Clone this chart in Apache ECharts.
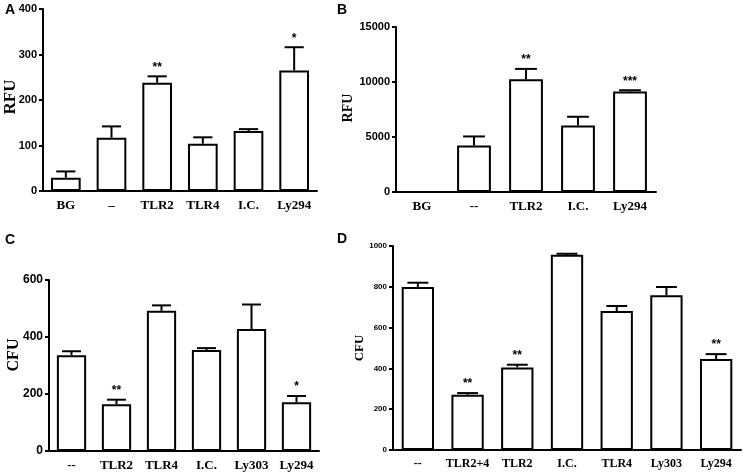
<!DOCTYPE html>
<html>
<head>
<meta charset="utf-8">
<script src="https://cdn.jsdelivr.net/npm/echarts@6/dist/echarts.min.js"></script>
<style>
  html, body { margin: 0; padding: 0; background: #fff; }
  #chart { width: 743px; height: 475px; }
</style>
</head>
<body>
<div id="chart"></div>
<script>
// panel A - RFU
var catsA = ['BG', '\u2013', 'TLR2', 'TLR4', 'I.C.', 'Ly294'];
var meansA = [29, 117, 238, 104, 132, 265];
var semA = [14, 25, 14, 14, 4, 51];
var starsA = ['', '', '**', '', '', '*'];

// panel B - RFU
var catsB = ['BG', '--', 'TLR2', 'I.C.', 'Ly294'];
var meansB = [0, 4230, 10250, 6050, 9130];
var semB = [0, 820, 940, 790, 120];
var starsB = ['', '', '**', '', '***'];

// panel C - CFU
var catsC = ['--', 'TLR2', 'TLR4', 'I.C.', 'Ly303', 'Ly294'];
var meansC = [336, 164, 492, 354, 428, 171];
var semC = [14, 16, 19, 7, 86, 22];
var starsC = ['', '**', '', '', '', '*'];

// panel D - CFU
var catsD = ['--', 'TLR2+4', 'TLR2', 'I.C.', 'TLR4', 'Ly303', 'Ly294'];
var meansD = [799, 271, 405, 957, 681, 758, 446];
var semD = [21, 8, 13, 5, 25, 41, 24];
var starsD = ['', '**', '**', '', '', '', '**'];

var SANS = 'Liberation Sans';
var SERIF = 'Liberation Serif';

var chart = echarts.init(document.getElementById('chart'));

function xAx(idx, cats, size) {
    return {
        type: 'category', gridIndex: idx, data: cats,
        axisLine: { onZero: false, lineStyle: { color: '#000', width: 2 } },
        axisTick: { alignWithLabel: true, length: 5, lineStyle: { color: '#000', width: 2 } },
        axisLabel: { color: '#000', fontFamily: SERIF, fontWeight: 'bold', fontSize: size, margin: 8, interval: 0 },
        splitLine: { show: false }
    };
}

function yAx(idx, max, step, size) {
    return {
        type: 'value', gridIndex: idx, min: 0, max: max, interval: step,
        axisLine: { show: true, lineStyle: { color: '#000', width: 2 } },
        axisTick: { show: true, length: 4, lineStyle: { color: '#000', width: 2 } },
        axisLabel: { color: '#000', fontFamily: SANS, fontWeight: 'bold', fontSize: size, margin: 6,
            formatter: function (v) { return String(v); } },
        splitLine: { show: false }
    };
}

function bars(idx, means) {
    return {
        type: 'bar', xAxisIndex: idx, yAxisIndex: idx, data: means,
        barWidth: '65%', silent: true,
        itemStyle: { color: '#fff', borderColor: '#000', borderWidth: 2 }
    };
}

// error bar (upper only) + significance stars
function errs(idx, means, sems, stars) {
    var data = means.map(function (m, i) { return [i, m, m + sems[i]]; });
    return {
        type: 'custom', xAxisIndex: idx, yAxisIndex: idx, data: data, z: 5, silent: true,
        renderItem: function (params, api) {
            var i = params.dataIndex;
            var p0 = api.coord([api.value(0), api.value(1)]);
            var p1 = api.coord([api.value(0), api.value(2)]);
            var w = api.size([1, 0])[0] * 0.42;
            var kids = [];
            if (sems[i] > 0) {
                kids.push({ type: 'line', shape: { x1: p0[0], y1: p0[1], x2: p1[0], y2: p1[1] },
                    style: { stroke: '#000', lineWidth: 2 } });
                kids.push({ type: 'line', shape: { x1: p1[0] - w / 2, y1: p1[1], x2: p1[0] + w / 2, y2: p1[1] },
                    style: { stroke: '#000', lineWidth: 2 } });
            }
            if (stars[i]) {
                kids.push({ type: 'text', x: p1[0], y: p1[1] - 9,
                    style: { text: stars[i], fill: '#000', font: 'bold 12px ' + SANS, align: 'center', verticalAlign: 'middle' } });
            }
            return { type: 'group', children: kids };
        }
    };
}

function txt(x, y, s, size, family, rot) {
    return { type: 'text', x: x, y: y, rotation: rot || 0,
        style: { text: s, fill: '#000', font: 'bold ' + size + 'px ' + family, align: 'center', verticalAlign: 'middle' } };
}

chart.setOption({
    animation: false,
    backgroundColor: '#fff',
    grid: [
        { left: 43, top: 9, width: 274, height: 182 },
        { left: 396, top: 27, width: 260, height: 165 },
        { left: 49, top: 280, width: 270, height: 171 },
        { left: 393, top: 246, width: 348, height: 204 }
    ],
    xAxis: [xAx(0, catsA, 13), xAx(1, catsB, 13), xAx(2, catsC, 13), xAx(3, catsD, 12)],
    yAxis: [yAx(0, 400, 100, 11), yAx(1, 15000, 5000, 11), yAx(2, 600, 200, 12), yAx(3, 1000, 200, 8)],
    series: [
        bars(0, meansA), errs(0, meansA, semA, starsA),
        bars(1, meansB), errs(1, meansB, semB, starsB),
        bars(2, meansC), errs(2, meansC, semC, starsC),
        bars(3, meansD), errs(3, meansD, semD, starsD)
    ],
    graphic: [
        txt(10, 10, 'A', 14, SANS), txt(342, 10, 'B', 14, SANS),
        txt(10, 240, 'C', 14, SANS), txt(342, 239, 'D', 14, SANS),
        txt(11, 97, 'RFU', 17, SERIF, Math.PI / 2),
        txt(348, 108, 'RFU', 14, SERIF, Math.PI / 2),
        txt(14, 355, 'CFU', 16, SERIF, Math.PI / 2),
        txt(360, 348, 'CFU', 13, SERIF, Math.PI / 2)
    ]
});
</script>
</body>
</html>
